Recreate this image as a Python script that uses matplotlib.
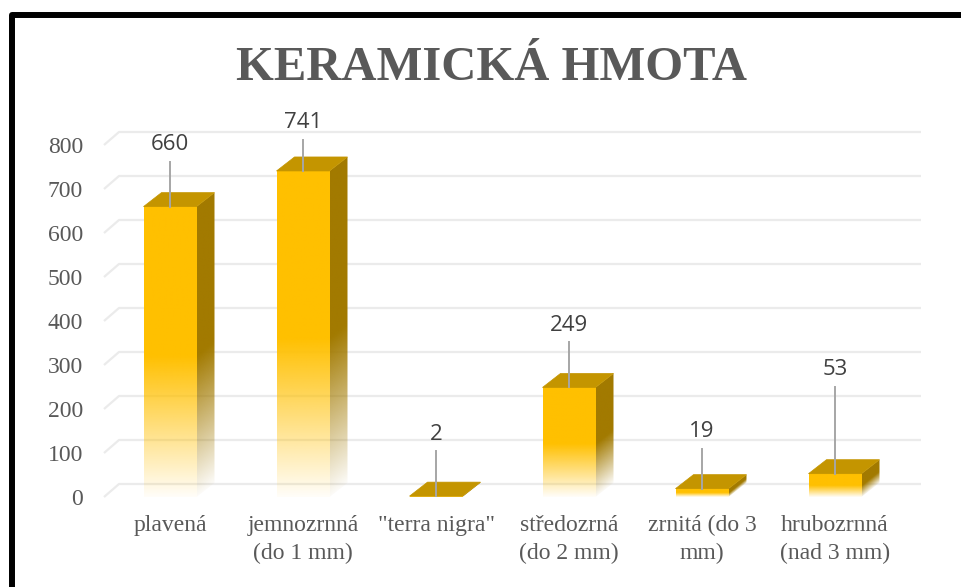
import numpy as np
import matplotlib.pyplot as plt
import matplotlib.colors as mcolors
from matplotlib.patches import Polygon, Rectangle

categories = ['plavená', 'jemnozrnná\n(do 1 mm)', '"terra nigra"',
              'středozrná\n(do 2 mm)', 'zrnitá (do 3\nmm)', 'hrubozrnná\n(nad 3 mm)']
values = [660, 741, 2, 249, 19, 53]
y_ticks = [0, 100, 200, 300, 400, 500, 600, 700, 800]

GOLD = '#FFC000'
TOP = '#C49500'
SIDE = '#A27A00'
GRID = '#EBEBEB'
W, H = 962, 587

# pixel scale of the plot area
PX_X = 133.0   # px per category
PX_Y = 0.44    # px per unit value
BW = 53 / PX_X
DX, DY = 18 / PX_X, 14 / PX_Y        # bar depth
WX, WY = 15 / PX_X, 13 / PX_Y        # back wall offset

fig = plt.figure(figsize=(W / 100, H / 100), dpi=100)
ax = fig.add_axes([104 / W, 90 / H, 817 / W, 352 / H])
x0, x1 = -66 / PX_X, 751 / PX_X


def faded(color, xs, ys, height, x_left, slope):
    # alpha ramps from ~0 at the floor to 1 at half of the bar height
    rgb = mcolors.to_rgb(color)
    X, Y = np.meshgrid(xs, ys)
    h = Y - slope * (X - x_left)
    a = np.clip(0.03 + h / (0.5 * max(height, 1e-6)), 0, 1)
    img = np.zeros(X.shape + (4,))
    img[..., :3] = rgb
    img[..., 3] = a
    return img


# gridlines on the floor/side wall and back wall
for t in y_ticks:
    ax.plot([x0, x0 + WX, x1], [t, t + WY, t + WY], color=GRID, lw=1.6,
            zorder=1, solid_capstyle='butt', clip_on=False)

for i, v in enumerate(values):
    l, r = i - BW / 2, i + BW / 2
    # front face
    ys = np.linspace(0, v, 200)
    img = faded(GOLD, np.array([l, r]), ys, v, l, 0)
    ax.imshow(img, extent=(l, r, 0, v), origin='lower', aspect='auto',
              interpolation='bilinear', zorder=3)
    # side face
    side = Polygon([(r, 0), (r + DX, DY), (r + DX, v + DY), (r, v)],
                   closed=True, transform=ax.transData, fc='none', ec='none')
    xs = np.linspace(r, r + DX, 40)
    ys = np.linspace(0, v + DY, 200)
    img = faded(SIDE, xs, ys, v, r, DY / DX)
    im = ax.imshow(img, extent=(r, r + DX, 0, v + DY), origin='lower',
                   aspect='auto', interpolation='bilinear', zorder=3)
    im.set_clip_path(side)
    # top face
    ax.add_patch(Polygon([(l, v), (r, v), (r + DX, v + DY), (l + DX, v + DY)],
                         closed=True, fc=TOP, ec=TOP, lw=0.5, zorder=4))

# data labels with leader lines
label_off = [64, 50, 64, 64, 59, 106]
for i, v in enumerate(values):
    off = label_off[i]
    ax.plot([i, i], [v, v + (off - 19) / PX_Y], color='#A6A6A6', lw=1.4,
            zorder=5, clip_on=False)
    ax.annotate(str(v), xy=(i, v), xytext=(0, off - 2), textcoords='offset pixels',
                ha='center', va='center', fontsize=16, family='Open Sans',
                color='#404040', zorder=6, annotation_clip=False)

ax.set_xlim(x0, x1)
ax.set_ylim(0, 800)
ax.set_yticks(y_ticks)
ax.set_xticks(range(len(categories)))
ax.set_xticklabels(categories, linespacing=1.4)
ax.tick_params(axis='y', length=0, pad=15, labelsize=17, labelcolor='#595959')
ax.tick_params(axis='x', length=0, pad=13, labelsize=17, labelcolor='#595959')
for lab in ax.get_xticklabels() + ax.get_yticklabels():
    lab.set_family('Liberation Serif')
for s in ax.spines.values():
    s.set_visible(False)
ax.patch.set_alpha(0)

fig.text(492 / W, 1 - 80 / H, 'KERAMICKÁ HMOTA', ha='center', va='baseline',
         fontsize=35, fontweight='bold', family='Liberation Serif', color='#595959')

fig.add_artist(Rectangle((11.5 / W, -0.05), 1.1, 1 - 14.5 / H + 0.05,
                         transform=fig.transFigure, fill=False, lw=4.3,
                         ec='black', joinstyle='round'))

fig.savefig('out.png', dpi=100)
